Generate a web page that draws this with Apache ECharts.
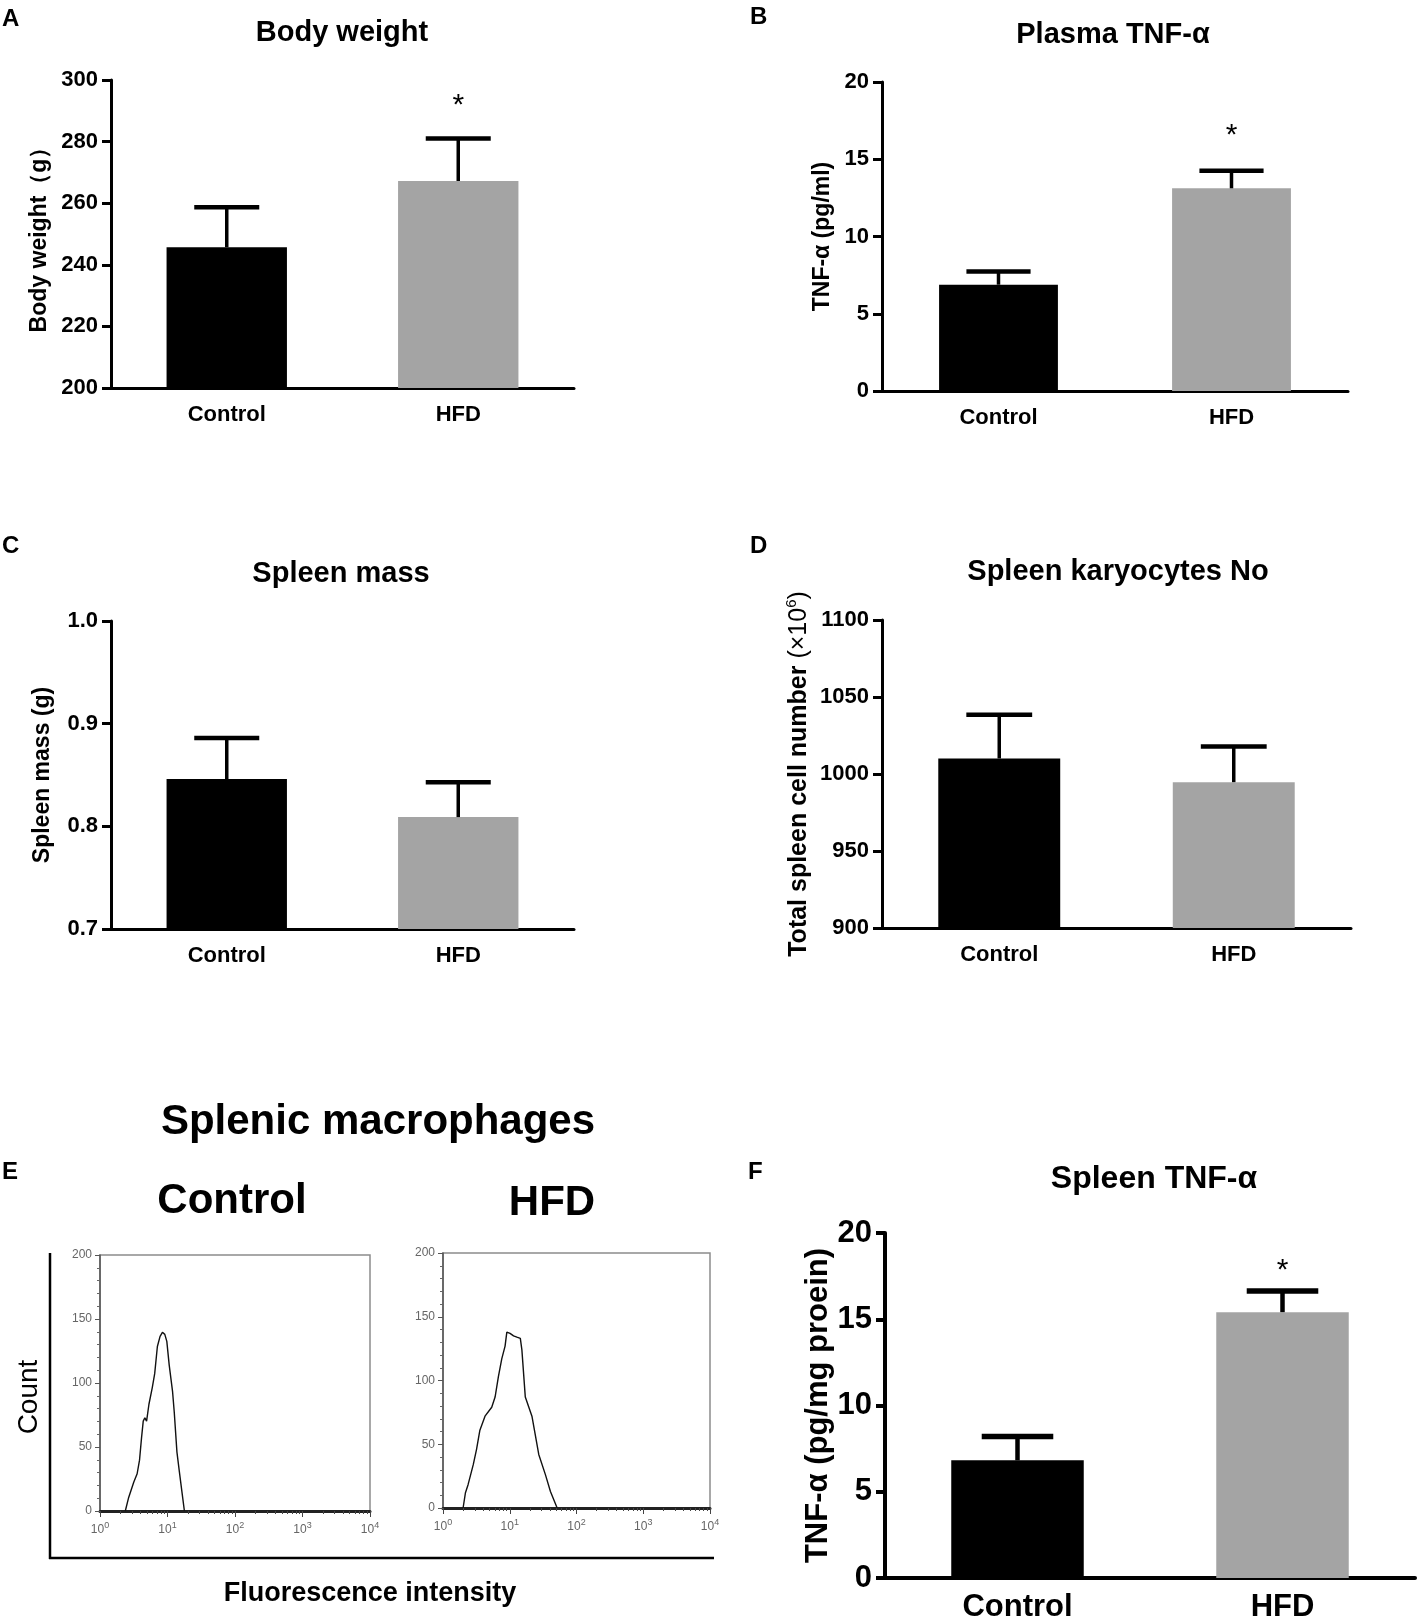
<!DOCTYPE html>
<html>
<head>
<meta charset="utf-8">
<script src="https://cdn.jsdelivr.net/npm/echarts@6/dist/echarts.min.js"></script>
<style>
html, body { margin: 0; padding: 0; background: #fff; }
#main { width: 1417px; height: 1623px; }
</style>
</head>
<body>
<div id="main"></div>
<script>
// groups
var groups = ['Control', 'HFD'];

// A - body weight (g)
var bodyWeightMean = [245.7, 267.2];
var bodyWeightSem = [13.0, 13.8];
var bodyWeightStar = [null, 293.8];

// B - plasma TNF-a (pg/ml)
var plasmaTnfMean = [6.88, 13.12];
var plasmaTnfSem = [0.86, 1.14];
var plasmaTnfStar = [null, 17.0];

// C - spleen mass (g)
var spleenMassMean = [0.846, 0.809];
var spleenMassSem = [0.040, 0.034];

// D - spleen karyocytes (x10^6)
var karyoMean = [1010.1, 994.7];
var karyoSem = [28.3, 23.1];

// F - spleen TNF-a (pg/mg protein)
var spleenTnfMean = [6.82, 15.41];
var spleenTnfSem = [1.39, 1.23];
var spleenTnfStar = [null, 18.2];

// E - flow cytometry histograms (fluorescence, count)
var controlHistX = [2.37, 2.66, 3.16, 3.55, 3.85, 4.12, 4.37, 4.62, 4.90, 5.31, 5.96, 6.46, 7.08, 7.76, 8.41, 9.12, 9.77, 10.6, 11.9, 12.6, 13.8, 15.0, 16.4, 17.8];
var controlHistCount = [0, 10.6, 22.5, 29.1, 39.7, 56.9, 70.2, 72.8, 70.2, 83.4, 96.6, 107.3, 128.5, 136.4, 139.6, 138, 132.5, 114, 93, 77, 46, 30.5, 14.6, 0];
var hfdHistX = [2.0, 2.17, 2.38, 2.84, 3.18, 3.57, 4.26, 5.37, 6.03, 6.76, 7.59, 8.51, 9.04, 10.1, 11.4, 12.8, 14.4, 15.2, 17.1, 21.5, 27.2, 34.3, 40.7, 51.3];
var hfdHistCount = [0, 12, 18.5, 34, 46, 61, 72, 79, 87, 103, 117, 127, 138, 137, 135, 134, 133, 124, 87, 72, 42, 26, 13, 0];

// axis ticks for the log axes
var decadeTicks = [1, 10, 100, 1000, 10000];
var minorLogTicks = [2, 3, 4, 5, 6, 7, 8, 9, 20, 30, 40, 50, 60, 70, 80, 90,
  200, 300, 400, 500, 600, 700, 800, 900, 2000, 3000, 4000, 5000, 6000, 7000, 8000, 9000];

var SANS = '"Liberation Sans", Arial, sans-serif';
var NARROW = '"Liberation Sans Narrow", "Liberation Sans", Arial, sans-serif';
var barColors = ['#000000', '#a4a4a4'];

var grids = [], xAxes = [], yAxes = [], series = [];

function errRender(frac, stem, capW) {
  return function (params, api) {
    var i = api.value(0), m = api.value(1), e = api.value(2);
    var base = api.coord([i, m]);
    var top = api.coord([i, m + e]);
    var half = api.size([1, 0])[0] * frac * 0.27;
    return {
      type: 'group',
      children: [
        { type: 'line', shape: { x1: base[0], y1: base[1], x2: top[0], y2: top[1] },
          style: { stroke: '#000', lineWidth: stem } },
        { type: 'line', shape: { x1: top[0] - half, y1: top[1], x2: top[0] + half, y2: top[1] },
          style: { stroke: '#000', lineWidth: capW } }
      ]
    };
  };
}

function starRender(params, api) {
  var p = api.coord([api.value(0), api.value(1)]);
  return { type: 'text', x: p[0], y: p[1] + 7,
    style: { text: '*', fontSize: 30, fontFamily: SANS, fill: '#000',
      textAlign: 'center', textVerticalAlign: 'middle', align: 'center', verticalAlign: 'middle' } };
}

function plain(v) { return String(v); }

function addBarPanel(p) {
  var gi = grids.length, xi = xAxes.length, yi = yAxes.length;
  grids.push({ left: p.box[0], top: p.box[1], width: p.box[2], height: p.box[3] });
  xAxes.push({
    type: 'category', gridIndex: gi, data: groups,
    axisLine: { lineStyle: { color: '#000', width: p.lw } },
    axisTick: { alignWithLabel: true, length: 9, lineStyle: { color: '#000', width: p.lw } },
    axisLabel: { color: '#000', fontSize: p.tick, fontWeight: 'bold', fontFamily: p.font, margin: p.xMargin }
  });
  yAxes.push({
    type: 'value', gridIndex: gi, min: p.min, max: p.max, interval: p.step,
    name: p.name, nameLocation: 'middle', nameGap: p.nameGap, nameRotate: 90,
    nameTextStyle: { color: '#000', fontSize: p.nameSize, fontWeight: 'bold', fontFamily: p.font, rich: p.rich },
    axisLine: { show: true, lineStyle: { color: '#000', width: p.lw } },
    axisTick: { show: true, length: 9, lineStyle: { color: '#000', width: p.lw } },
    splitLine: { show: false },
    axisLabel: { color: '#000', fontSize: p.tick, fontWeight: 'bold', fontFamily: p.font, margin: 13,
      formatter: p.fmt || plain }
  });
  series.push({
    type: 'bar', xAxisIndex: xi, yAxisIndex: yi, barWidth: (p.frac * 100) + '%',
    data: p.mean.map(function (v, i) { return { value: v, itemStyle: { color: barColors[i] } }; })
  });
  series.push({
    type: 'custom', xAxisIndex: xi, yAxisIndex: yi, z: 3,
    renderItem: errRender(p.frac, p.lw + 0.5, p.lw + 1.5),
    encode: { x: 0, y: 1 },
    data: p.mean.map(function (v, i) { return [i, v, p.sem[i]]; })
  });
  if (p.star) {
    var st = [];
    p.star.forEach(function (v, i) { if (v != null) st.push([i, v]); });
    series.push({ type: 'custom', xAxisIndex: xi, yAxisIndex: yi, z: 4,
      renderItem: starRender, encode: { x: 0, y: 1 }, data: st });
  }
}

function addHistPanel(box, xs, counts) {
  var gi = grids.length, xi = xAxes.length, yi = yAxes.length;
  grids.push({ left: box[0], top: box[1], width: box[2], height: box[3], show: true,
    borderColor: '#8c8c8c', borderWidth: 1.5, backgroundColor: 'transparent' });
  xAxes.push({
    type: 'log', logBase: 10, gridIndex: gi, min: 1, max: 10000, position: 'bottom',
    axisLine: { show: true, onZero: false, lineStyle: { color: '#222', width: 3 } },
    axisTick: { show: true, customValues: decadeTicks, length: 6, lineStyle: { color: '#444', width: 1 } },
    axisLabel: { customValues: decadeTicks, color: '#666', fontSize: 12, fontFamily: SANS, margin: 10,
      lineHeight: 18,
      formatter: function (v) { return '10{s|' + Math.round(Math.log(v) / Math.LN10) + '}'; },
      rich: { s: { fontSize: 9, color: '#666', verticalAlign: 'top', lineHeight: 18 } } },
    splitLine: { show: false }
  });
  xAxes.push({
    type: 'log', logBase: 10, gridIndex: gi, min: 1, max: 10000, position: 'bottom',
    axisLine: { show: false, onZero: false },
    axisTick: { show: true, customValues: minorLogTicks, length: 3, lineStyle: { color: '#444', width: 1 } },
    axisLabel: { show: false }, splitLine: { show: false }
  });
  yAxes.push({
    type: 'value', gridIndex: gi, min: 0, max: 200, interval: 50,
    axisLine: { show: true, lineStyle: { color: '#555', width: 1.5 } },
    axisTick: { show: true, length: 5, lineStyle: { color: '#555', width: 1 } },
    minorTick: { show: true, splitNumber: 5, length: 3, lineStyle: { color: '#666', width: 1 } },
    axisLabel: { color: '#666', fontSize: 12, fontFamily: SANS, margin: 8 },
    splitLine: { show: false }
  });
  series.push({
    type: 'line', xAxisIndex: xi, yAxisIndex: yi, showSymbol: false, symbol: 'none',
    lineStyle: { color: '#111', width: 1.4 },
    data: xs.map(function (x, i) { return [x, counts[i]]; })
  });
}

addBarPanel({ box: [111, 80, 463, 308], min: 200, max: 300, step: 20, lw: 3,
  name: 'Body weight（g）', nameGap: 60, nameSize: 23, tick: 22, font: SANS, xMargin: 16, frac: 0.52,
  mean: bodyWeightMean, sem: bodyWeightSem, star: bodyWeightStar });
addBarPanel({ box: [882, 82, 466, 309], min: 0, max: 20, step: 5, lw: 3,
  name: 'TNF-α (pg/ml)', nameGap: 48, nameSize: 23, tick: 22, font: SANS, xMargin: 16, frac: 0.51,
  mean: plasmaTnfMean, sem: plasmaTnfSem, star: plasmaTnfStar });
addBarPanel({ box: [111, 621, 463, 308], min: 0.7, max: 1.0, step: 0.1, lw: 3,
  name: 'Spleen mass (g)', nameGap: 57, nameSize: 23, tick: 22, font: SANS, xMargin: 16, frac: 0.52,
  fmt: function (v) { return v.toFixed(1); },
  mean: spleenMassMean, sem: spleenMassSem });
addBarPanel({ box: [882, 620, 469, 308], min: 900, max: 1100, step: 50, lw: 3,
  name: 'Total spleen cell number {n|(×10}{s|6}{n|)}', nameGap: 68, nameSize: 25, tick: 22, font: SANS,
  xMargin: 16, frac: 0.52,
  rich: { n: { fontSize: 25, fontWeight: 'normal', fontFamily: SANS, color: '#000', lineHeight: 30 },
          s: { fontSize: 15, fontWeight: 'normal', fontFamily: SANS, color: '#000', verticalAlign: 'top', lineHeight: 30 } },
  mean: karyoMean, sem: karyoSem });
addBarPanel({ box: [885, 1233, 530, 352], min: 0, max: 20, step: 5, lw: 4,
  name: 'TNF-α (pg/mg proein)', nameGap: 50, nameSize: 31, tick: 31, font: NARROW, xMargin: 14, frac: 0.5,
  mean: spleenTnfMean, sem: spleenTnfSem, star: spleenTnfStar });

addHistPanel([100, 1255, 270, 256], controlHistX, controlHistCount);
addHistPanel([443, 1253, 267, 255], hfdHistX, hfdHistCount);

function label(x, y, text, size, weight, align, rot) {
  return { type: 'text', x: x, y: y, rotation: rot || 0, silent: true, z: 10,
    style: { text: text, fontSize: size, fontWeight: weight, fontFamily: SANS, fill: '#000',
      textAlign: align, textVerticalAlign: 'middle', align: align, verticalAlign: 'middle' } };
}

var graphics = [
  label(2, 19, 'A', 24, 'bold', 'left'),
  label(750, 17, 'B', 24, 'bold', 'left'),
  label(2, 546, 'C', 24, 'bold', 'left'),
  label(750, 546, 'D', 24, 'bold', 'left'),
  label(2, 1172, 'E', 24, 'bold', 'left'),
  label(748, 1172, 'F', 24, 'bold', 'left'),
  label(342, 33, 'Body weight', 29, 'bold', 'center'),
  label(1113, 35, 'Plasma TNF-α', 29, 'bold', 'center'),
  label(341, 574, 'Spleen mass', 29, 'bold', 'center'),
  label(1118, 572, 'Spleen karyocytes No', 29, 'bold', 'center'),
  label(1154, 1179, 'Spleen TNF-α', 32, 'bold', 'center'),
  label(378, 1122, 'Splenic macrophages', 42, 'bold', 'center'),
  label(232, 1201, 'Control', 42, 'bold', 'center'),
  label(552, 1203, 'HFD', 42, 'bold', 'center'),
  label(29, 1397, 'Count', 28, 'normal', 'center', Math.PI / 2),
  label(370, 1594, 'Fluorescence intensity', 27, 'bold', 'center'),
  { type: 'line', silent: true, shape: { x1: 50, y1: 1253, x2: 50, y2: 1559 }, style: { stroke: '#000', lineWidth: 2.5 } },
  { type: 'line', silent: true, shape: { x1: 49, y1: 1558, x2: 714, y2: 1558 }, style: { stroke: '#000', lineWidth: 2.5 } }
];

var chart = echarts.init(document.getElementById('main'));
chart.setOption({
  backgroundColor: '#fff',
  animation: false,
  grid: grids,
  xAxis: xAxes,
  yAxis: yAxes,
  series: series,
  graphic: graphics
});
</script>
</body>
</html>
